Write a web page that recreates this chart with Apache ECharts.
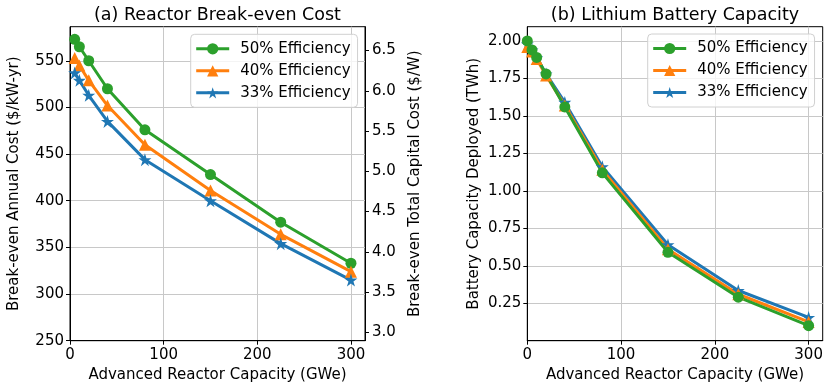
<!DOCTYPE html>
<html>
<head>
<meta charset="utf-8">
<script src="https://cdn.jsdelivr.net/npm/echarts@6/dist/echarts.min.js"></script>
<style>
  html, body { margin: 0; padding: 0; background: #fff; }
  #chart { width: 831px; height: 390px; }
</style>
</head>
<body>
<div id="chart"></div>
<script>
// reactor capacity (GWe) for the break-even cost panel
const capacity = [5, 10, 20, 40, 80, 150, 225, 300]
// break-even annual cost ($/kW-yr)
const cost50 = [573, 565, 550, 520, 476, 428, 377, 333]
const cost40 = [553, 545, 529, 502, 460, 411, 364, 324]
const cost33 = [537, 529, 513, 485, 444, 400, 354, 315]

// reactor capacity (GWe) for the battery panel
const batteryCapacity = [0, 5, 10, 20, 40, 80, 150, 225, 300]
// lithium battery deployed (TWh)
const battery50 = [2.0, 1.94, 1.89, 1.78, 1.56, 1.12, 0.59, 0.29, 0.10]
const battery40 = [1.96, 1.93, 1.88, 1.77, 1.57, 1.14, 0.61, 0.31, 0.125]
const battery33 = [1.98, 1.94, 1.89, 1.78, 1.59, 1.16, 0.64, 0.335, 0.155]

// tick labels
const xTicks = [0, 100, 200, 300]
const costTicks = [250, 300, 350, 400, 450, 500, 550]
const capitalTicks = [3.0, 3.5, 4.0, 4.5, 5.0, 5.5, 6.0, 6.5]
const batteryTicks = [0.25, 0.5, 0.75, 1.0, 1.25, 1.5, 1.75, 2.0]

const names = ['50% Efficiency', '40% Efficiency', '33% Efficiency']
const colors = ['#2ca02c', '#ff7f0e', '#1f77b4']
const star = 'path://M0,-10L2.245,-3.09L9.511,-3.09L3.633,1.18L5.878,8.09L0,3.82L-5.878,8.09L-3.633,1.18L-9.511,-3.09L-2.245,-3.09Z'
const symbols = ['circle', 'triangle', star]
const symbolSizes = [11, 12, 13]

// annual cost -> total capital cost conversion
const costRatio = 86.3

const font = 'DejaVu Sans'
const fs = 15

function pairs (xs, ys) {
  return xs.map((x, i) => [x, ys[i]])
}

function mkSeries (idx, xs, ys, xi, yi) {
  return {
    name: names[idx],
    type: 'line',
    xAxisIndex: xi,
    yAxisIndex: yi,
    data: pairs(xs, ys),
    symbol: symbols[idx],
    symbolSize: symbolSizes[idx],
    showAllSymbol: true,
    color: colors[idx],
    lineStyle: { width: 3, color: colors[idx] },
    itemStyle: { color: colors[idx] },
    emphasis: { disabled: true }
  }
}

function xAxisOf (gi) {
  return {
    type: 'value',
    gridIndex: gi,
    min: 0,
    max: 315,
    interval: 100,
    name: 'Advanced Reactor Capacity (GWe)',
    nameLocation: 'middle',
    nameGap: 27,
    nameTextStyle: { fontFamily: font, fontSize: fs, color: '#000' },
    axisLine: { lineStyle: { color: '#000', width: 1 } },
    axisTick: { show: true, length: 4, lineStyle: { color: '#000' }, customValues: xTicks },
    axisLabel: { fontFamily: font, fontSize: fs, color: '#000', margin: 7, customValues: xTicks },
    splitLine: { show: true, lineStyle: { color: '#c8c8c8', width: 1 } }
  }
}

const legendBase = {
  orient: 'vertical',
  itemWidth: 33,
  itemHeight: 14,
  itemGap: 7,
  padding: [7, 7, 7, 4],
  backgroundColor: 'rgba(255,255,255,0.8)',
  borderColor: '#d0d0d0',
  borderWidth: 1,
  borderRadius: 4,
  lineStyle: { width: 3 },
  textStyle: { fontFamily: font, fontSize: fs, color: '#000', padding: [0, 0, 0, 6] },
  data: names
}

const option = {
  animation: false,
  backgroundColor: '#fff',
  title: [
    { text: '(a) Reactor Break-even Cost', left: 217.5, top: 6, textAlign: 'center', padding: 0,
      textStyle: { fontFamily: font, fontSize: 17.5, fontWeight: 'normal', color: '#000' } },
    { text: '(b) Lithium Battery Capacity', left: 675, top: 6, textAlign: 'center', padding: 0,
      textStyle: { fontFamily: font, fontSize: 17.5, fontWeight: 'normal', color: '#000' } }
  ],
  legend: [
    Object.assign({}, legendBase, { left: 190.7, top: 34.3 }),
    Object.assign({}, legendBase, { left: 647.7, top: 34 })
  ],
  grid: [
    { left: 70, top: 26.7, width: 295, height: 314, show: true, borderColor: '#000', borderWidth: 1 },
    { left: 527.3, top: 26.7, width: 295.4, height: 314, show: true, borderColor: '#000', borderWidth: 1 }
  ],
  xAxis: [xAxisOf(0), xAxisOf(1)],
  yAxis: [
    {
      type: 'value',
      gridIndex: 0,
      position: 'left',
      min: 250,
      max: 586.5,
      interval: 50,
      name: 'Break-even Annual Cost ($/kW-yr)',
      nameLocation: 'middle',
      nameGap: 48,
      nameTextStyle: { fontFamily: font, fontSize: fs, color: '#000' },
      axisLine: { show: true, lineStyle: { color: '#000' } },
      axisTick: { show: true, length: 4, lineStyle: { color: '#000' }, customValues: costTicks },
      axisLabel: { fontFamily: font, fontSize: fs, color: '#000', margin: 6, customValues: costTicks },
      splitLine: { show: true, lineStyle: { color: '#c8c8c8', width: 1 } }
    },
    {
      type: 'value',
      gridIndex: 0,
      position: 'right',
      min: 250 / costRatio,
      max: 586.5 / costRatio,
      name: 'Break-even Total Capital Cost ($/W)',
      nameLocation: 'middle',
      nameGap: 43,
      nameTextStyle: { fontFamily: font, fontSize: fs, color: '#000' },
      axisLine: { show: true, lineStyle: { color: '#000' } },
      axisTick: { show: true, length: 4, lineStyle: { color: '#000' }, customValues: capitalTicks },
      axisLabel: { fontFamily: font, fontSize: fs, color: '#000', margin: 7, customValues: capitalTicks,
        formatter: v => v.toFixed(1) },
      splitLine: { show: false }
    },
    {
      type: 'value',
      gridIndex: 1,
      min: 0,
      max: 2.095,
      interval: 0.25,
      name: 'Battery Capacity Deployed (TWh)',
      nameLocation: 'middle',
      nameGap: 46,
      nameTextStyle: { fontFamily: font, fontSize: fs, color: '#000' },
      axisLine: { show: true, lineStyle: { color: '#000' } },
      axisTick: { show: true, length: 4, lineStyle: { color: '#000' }, customValues: batteryTicks },
      axisLabel: { fontFamily: font, fontSize: fs, color: '#000', margin: 6, customValues: batteryTicks,
        formatter: v => v.toFixed(2) },
      splitLine: { show: true, lineStyle: { color: '#c8c8c8', width: 1 } }
    }
  ],
  series: [
    mkSeries(0, capacity, cost50, 0, 0),
    mkSeries(1, capacity, cost40, 0, 0),
    mkSeries(2, capacity, cost33, 0, 0),
    // green drawn last so it sits on top in panel (b)
    mkSeries(2, batteryCapacity, battery33, 1, 2),
    mkSeries(1, batteryCapacity, battery40, 1, 2),
    mkSeries(0, batteryCapacity, battery50, 1, 2)
  ]
}

const myChart = echarts.init(document.getElementById('chart'), null, { renderer: 'canvas' })
myChart.setOption(option)
</script>
</body>
</html>
